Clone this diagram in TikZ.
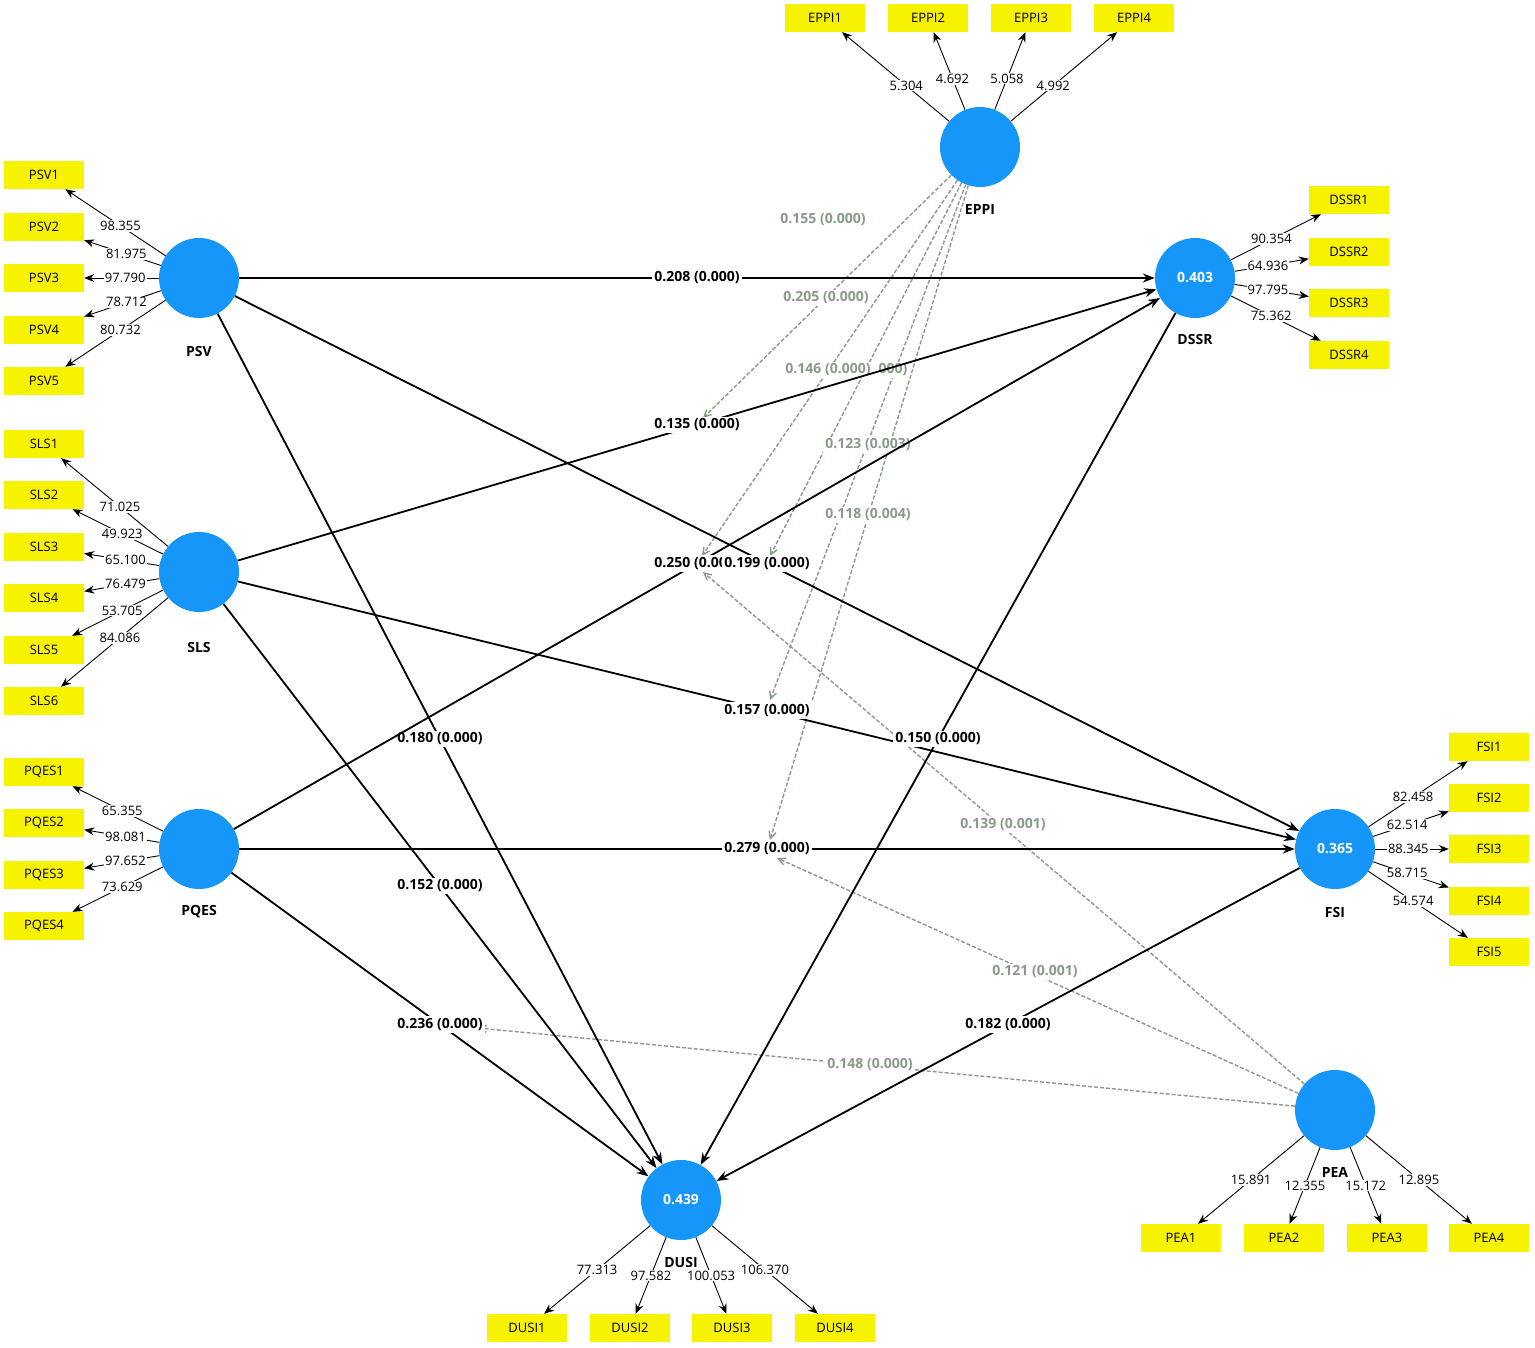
\documentclass[tikz,border=0pt]{standalone}
\usepackage{fontspec}
\setmainfont{Open Sans}
\usetikzlibrary{arrows.meta}
\definecolor{lv}{HTML}{1696F9}
\definecolor{ylw}{HTML}{F7F200}
\definecolor{mg}{HTML}{8A9A88}
\begin{document}
\begin{tikzpicture}[x=1pt,y=-1pt,
 lv/.style={circle,fill=lv,minimum size=80pt,inner sep=0pt,text=white,font=\fontsize{14}{16}\selectfont\bfseries},
 mv/.style={rectangle,fill=ylw,minimum width=80pt,minimum height=28pt,inner sep=0pt,font=\fontsize{13}{15}\selectfont},
 nm/.style={font=\fontsize{14}{16}\selectfont\bfseries},
 path/.style={line width=1.8pt,-{Stealth[length=12pt,width=9pt]}},
 ind/.style={line width=0.9pt,-{Stealth[length=10pt,width=8pt]}},
 ld/.style={fill=white,inner sep=1pt,font=\fontsize{13}{15}\selectfont},
 pl/.style={fill=white,inner sep=2pt,font=\fontsize{14}{16}\selectfont\bfseries},
 mod/.style={mg,dash pattern=on 4pt off 2pt,line width=1.4pt,-{Straight Barb[open,length=7pt,width=7pt]}},
 ml/.style={fill=white,inner sep=2pt,text=mg,font=\fontsize{14}{16}\selectfont\bfseries}]
\useasboundingbox (0,0) rectangle (1535,1348);
% latent variables
\node[lv] (PSV) at (199,278) {};
\node[lv] (SLS) at (199,572) {};
\node[lv] (PQES) at (199,849) {};
\node[lv] (EPPI) at (980,147) {};
\node[lv] (DSSR) at (1195,278) {0.403};
\node[lv] (FSI) at (1335,849) {0.365};
\node[lv] (PEA) at (1335,1110) {};
\node[lv] (DUSI) at (681,1200) {0.439};
% indicators
\foreach \i/\y in {1/175,2/227,3/278,4/330,5/381}{\node[mv] (PSV\i) at (44,\y) {PSV\i};}
\foreach \i/\y in {1/444,2/495,3/547,4/598,5/650,6/701}{\node[mv] (SLS\i) at (44,\y) {SLS\i};}
\foreach \i/\y in {1/772,2/823,3/875,4/926}{\node[mv] (PQES\i) at (44,\y) {PQES\i};}
\foreach \i/\x in {1/825,2/928,3/1031,4/1134}{\node[mv] (EPPI\i) at (\x,18) {EPPI\i};}
\foreach \i/\y in {1/200,2/252,3/303,4/355}{\node[mv] (DSSR\i) at (1349,\y) {DSSR\i};}
\foreach \i/\y in {1/747,2/798,3/849,4/901,5/952}{\node[mv] (FSI\i) at (1489,\y) {FSI\i};}
\foreach \i/\x in {1/1181,2/1284,3/1387,4/1489}{\node[mv] (PEA\i) at (\x,1238) {PEA\i};}
\foreach \i/\x in {1/527,2/630,3/732,4/835}{\node[mv] (DUSI\i) at (\x,1328) {DUSI\i};}
% names
\node[nm] at (199,352) {PSV};
\node[nm] at (199,647) {SLS};
\node[nm] at (199,912) {PQES};
\node[nm] at (980,210) {EPPI};
\node[nm] at (1195,340) {DSSR};
\node[nm] at (1335,912) {FSI};
\node[nm] at (1335,1172) {PEA};
\node[nm] at (681,1262) {DUSI};
% loadings
\foreach \n/\v in {1/98.355,2/81.975,3/97.790,4/78.712,5/80.732}{\draw[ind] (PSV) -- node[ld,pos=0.45]{\v} (PSV\n);}
\foreach \n/\v in {1/71.025,2/49.923,3/65.100,4/76.479,5/53.705,6/84.086}{\draw[ind] (SLS) -- node[ld,pos=0.45]{\v} (SLS\n);}
\foreach \n/\v in {1/65.355,2/98.081,3/97.652,4/73.629}{\draw[ind] (PQES) -- node[ld,pos=0.45]{\v} (PQES\n);}
\foreach \n/\v in {1/5.304,2/4.692,3/5.058,4/4.992}{\draw[ind] (EPPI) -- node[ld,pos=0.4]{\v} (EPPI\n);}
\foreach \n/\v in {1/90.354,2/64.936,3/97.795,4/75.362}{\draw[ind] (DSSR) -- node[ld,pos=0.45]{\v} (DSSR\n);}
\foreach \n/\v in {1/82.458,2/62.514,3/88.345,4/58.715,5/54.574}{\draw[ind] (FSI) -- node[ld,pos=0.45]{\v} (FSI\n);}
\foreach \n/\v in {1/15.891,2/12.355,3/15.172,4/12.895}{\draw[ind] (PEA) -- node[ld,pos=0.5]{\v} (PEA\n);}
\foreach \n/\v in {1/77.313,2/97.582,3/100.053,4/106.370}{\draw[ind] (DUSI) -- node[ld,pos=0.5]{\v} (DUSI\n);}
% moderation (dashed) paths
\coordinate (m1) at (703,418);
\coordinate (m2) at (702,556);
\coordinate (m3) at (770,556);
\coordinate (m4) at (770,700);
\coordinate (m5) at (770,840);
\coordinate (m6) at (703,572);
\coordinate (m7) at (777,858);
\coordinate (m8) at (478,1028);
\draw[mod] (EPPI) -- (m1);
\draw[mod] (EPPI) -- (m2);
\draw[mod] (EPPI) -- (m3);
\draw[mod] (EPPI) -- (m4);
\draw[mod] (EPPI) -- (m5);
\draw[mod] (PEA) -- (m6);
\draw[mod] (PEA) -- (m7);
\draw[mod] (PEA) -- (m8);
\node[ml] at (893,370) {000)};
\node[ml] at (823,220) {0.155 (0.000)};
\node[ml] at (826,298) {0.205 (0.000)};
\node[ml] at (828,370) {0.146 (0.000)};
\node[ml] at (868,445) {0.123 (0.003)};
\node[ml] at (868,515) {0.118 (0.004)};
\node[ml] at (1003,825) {0.139 (0.001)};
\node[ml] at (1035,972) {0.121 (0.001)};
\node[ml] at (870,1065) {0.148 (0.000)};
% structural paths
\draw[path] (PSV) -- node[pl]{0.208 (0.000)} (DSSR);
\draw[path] (PSV) -- node[pl]{0.180 (0.000)} (DUSI);
\draw[path] (SLS) -- node[pl]{0.135 (0.000)} (DSSR);
\draw[path] (SLS) -- node[pl]{0.157 (0.000)} (FSI);
\draw[path] (SLS) -- node[pl]{0.152 (0.000)} (DUSI);
\draw[path] (PQES) -- node[pl]{0.250 (0.000)} (DSSR);
\draw[path] (PSV) -- node[pl]{0.199 (0.000)} (FSI);
\draw[path] (PQES) -- node[pl]{0.279 (0.000)} (FSI);
\draw[path] (PQES) -- node[pl]{0.236 (0.000)} (DUSI);
\draw[path] (DSSR) -- node[pl]{0.150 (0.000)} (DUSI);
\draw[path] (FSI) -- node[pl]{0.182 (0.000)} (DUSI);
\end{tikzpicture}
\end{document}
